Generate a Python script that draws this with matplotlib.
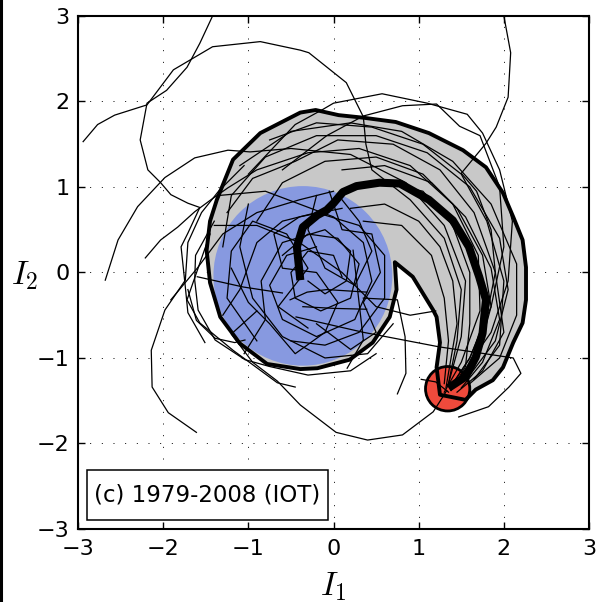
import matplotlib
matplotlib.use("Agg")
import matplotlib.pyplot as plt
from matplotlib.patches import Polygon, Circle, Rectangle
from matplotlib.lines import Line2D

plt.rcParams['mathtext.fontset'] = 'cm'
plt.rcParams['font.family'] = ['DejaVu Sans']

# ---- data (I1, I2 units) ----
ticks = [-3, -2, -1, 0, 1, 2, 3]
panel_label = "(c) 1979-2008 (IOT)"

# grey envelope outline
envelope = [(-1.45, -0.12), (-1.49, 0.26), (-1.45, 0.6), (-1.37, 0.85), (-1.18, 1.32),
            (-0.86, 1.63), (-0.39, 1.87), (-0.21, 1.90), (0.06, 1.84), (0.35, 1.81),
            (0.73, 1.76), (1.12, 1.63), (1.52, 1.43), (1.79, 1.23), (1.99, 0.93), (2.11, 0.65),
            (2.22, 0.38), (2.26, 0.06), (2.26, -0.32), (2.22, -0.59), (2.11, -0.82),
            (1.99, -1.11), (1.87, -1.26), (1.67, -1.37), (1.55, -1.49), (1.25, -1.43),
            (1.21, -1.11), (1.25, -0.82), (1.21, -0.52), (1.17, -0.44), (0.93, -0.05),
            (0.72, 0.12), (0.74, -0.20), (0.66, -0.52), (0.46, -0.82), (0.19, -1.02),
            (-0.19, -1.12), (-0.39, -1.13), (-0.78, -1.07), (-1.10, -0.83), (-1.33, -0.52)]

# mean path (thick black)
mean_i1 = [-0.39, -0.43, -0.36, -0.19, -0.08, 0.00, 0.11, 0.27, 0.54, 0.78, 1.12, 1.40,
           1.59, 1.71, 1.79, 1.75, 1.67, 1.55, 1.35]
mean_i2 = [-0.09, 0.30, 0.53, 0.67, 0.73, 0.81, 0.94, 1.01, 1.05, 1.04, 0.85, 0.61,
           0.30, -0.05, -0.32, -0.71, -0.99, -1.22, -1.35]

blue_center = (-0.36, -0.04)
blue_radius = 1.05
red_center = (1.34, -1.36)
red_radius = 0.26

# individual yearly trajectories
tracks = [
    [(-2.94, 1.53), (-2.77, 1.73), (-2.57, 1.84), (-2.19, 1.96), (-1.88, 2.37), (-1.42, 2.64),
     (-0.86, 2.70), (-0.39, 2.60), (-0.29, 2.57), (0.15, 2.22), (0.35, 1.82), (0.38, 1.5),
     (0.45, 1.2), (0.9, 0.85), (1.3, 0.4), (1.5, -0.2), (1.45, -0.8), (1.35, -1.3)],
    [(-1.42, 3.0), (-1.57, 2.68), (-1.72, 2.40), (-1.96, 2.13), (-2.19, 1.98), (-2.27, 1.55),
     (-2.18, 1.20), (-2.03, 1.05), (-1.91, 0.91), (-1.71, 0.81), (-1.57, 0.76), (-1.71, 0.46),
     (-1.79, 0.30), (-1.74, -0.17), (-1.71, -0.47), (-1.51, -0.82)],
    [(2.0, 3.0), (2.08, 2.57), (2.05, 2.05), (1.91, 1.70), (1.79, 1.51), (1.50, 1.16),
     (1.68, 0.95), (1.85, 0.5), (1.9, 0.0), (1.8, -0.5), (1.6, -1.0), (1.4, -1.3)],
    [(-2.68, -0.09), (-2.53, 0.38), (-2.30, 0.77), (-1.98, 1.11), (-1.63, 1.34), (-1.24, 1.43),
     (-0.98, 1.41), (-0.5, 1.45), (0.2, 1.38), (0.85, 1.05), (1.3, 0.55), (1.55, -0.1),
     (1.5, -0.75), (1.35, -1.3)],
    [(-2.21, 0.17), (-2.03, 0.38), (-1.83, 0.53), (-1.63, 0.71), (-1.44, 0.85), (-1.24, 0.99),
     (-0.9, 1.2), (-0.3, 1.4), (0.3, 1.45), (0.9, 1.25), (1.4, 0.8), (1.7, 0.2), (1.72, -0.45),
     (1.5, -1.05), (1.3, -1.4)],
    [(-1.05, 1.25), (-1.35, 0.95), (-1.55, 0.7), (-1.71, 0.35), (-1.74, -0.09), (-1.98, -0.44),
     (-2.14, -0.91), (-2.13, -1.34), (-1.94, -1.64), (-1.61, -1.87)],
    [(-0.9, -0.45), (-1.2, -0.72), (-0.95, -1.05), (-0.66, -1.27), (-0.39, -1.55), (0.03, -1.87),
     (0.40, -1.96), (0.81, -1.90), (1.17, -1.63), (1.28, -1.46), (1.33, -1.38)],
    [(-1.45, 0.45), (-1.72, -0.32), (-1.57, -0.59), (-1.18, -0.91), (-0.66, -1.29), (-0.45, -1.34)],
    [(-1.6, -0.05), (-1.06, -0.17), (-0.60, -0.24)],
    [(0.35, -0.3), (0.75, -0.32), (0.84, -0.75), (0.85, -1.18), (0.75, -1.42)],
    [(-0.44, -0.52), (0.35, -0.70), (1.24, -0.87), (2.11, -1.0), (2.20, -1.18), (2.06, -1.34),
     (1.82, -1.57), (1.47, -1.69)],
    [(1.03, -1.25), (1.2, -1.28), (1.35, -1.4)],
    [(-1.0, 1.15), (-0.45, 1.73), (-0.12, 1.91), (0.0, 1.98), (0.57, 2.09), (1.10, 1.98),
     (1.57, 1.85), (1.75, 1.63), (1.95, 1.2), (2.1, 0.6), (2.05, -0.1), (1.85, -0.7), (1.5, -1.2)],
    [(-0.6, 1.2), (-0.08, 1.60), (0.35, 1.83), (0.81, 1.95), (1.21, 1.97), (1.48, 1.71),
     (1.72, 1.60), (1.95, 1.0), (2.0, 0.3), (1.85, -0.4), (1.6, -1.0), (1.4, -1.3)],
    [(-1.4, 0.6), (-1.62, 0.2), (-1.63, -0.09), (-1.59, -0.44), (-1.39, -0.79), (-1.04, -1.02),
     (-0.75, -1.1), (-0.3, -1.2), (0.2, -1.15), (0.5, -0.95)],
    [(-1.71, -0.2), (-1.61, -0.56), (-1.39, -0.77), (-1.16, -0.82), (-1.04, -0.79)],
    [(-1.91, -0.32), (-1.6, 0.05), (-1.3, 0.45), (-0.9, 0.7), (-0.4, 0.85), (0.0, 0.95)],
    # along the envelope
    [(-1.3, 0.3), (-1.2, 0.9), (-0.8, 1.35), (-0.2, 1.6), (0.5, 1.6), (1.1, 1.4), (1.6, 1.0),
     (1.95, 0.4), (2.05, -0.2), (1.9, -0.8), (1.6, -1.2), (1.4, -1.35)],
    [(-0.9, 0.6), (-0.6, 1.05), (-0.1, 1.3), (0.5, 1.35), (1.05, 1.15), (1.45, 0.75),
     (1.75, 0.2), (1.85, -0.4), (1.7, -0.95), (1.45, -1.3)],
    [(-1.1, 1.25), (-0.5, 1.65), (0.2, 1.75), (0.8, 1.65), (1.4, 1.3), (1.85, 0.8),
     (2.15, 0.1), (2.15, -0.5), (1.95, -1.0), (1.6, -1.3)],
    [(0.1, 1.2), (0.6, 1.25), (1.15, 1.05), (1.55, 0.65), (1.85, 0.05), (1.95, -0.55),
     (1.75, -1.05), (1.5, -1.35)],
    [(0.2, 0.75), (0.6, 0.8), (1.0, 0.6), (1.25, 0.3), (1.4, -0.1), (1.45, -0.6), (1.38, -1.0),
     (1.32, -1.35)],
    [(0.35, 0.6), (0.8, 0.55), (1.15, 0.2), (1.3, -0.3), (1.35, -0.8), (1.3, -1.3)],
    [(-1.25, 0.7), (-0.95, 1.1), (-0.45, 1.3), (0.05, 1.55), (0.7, 1.5), (1.25, 1.2),
     (1.65, 0.7), (1.9, 0.0), (2.0, -0.7), (1.75, -1.15), (1.45, -1.4)],
    [(-0.75, 1.55), (-0.2, 1.75), (0.45, 1.7), (1.05, 1.5), (1.5, 1.15), (1.8, 0.6),
     (2.0, -0.1), (1.95, -0.85), (1.65, -1.25)],
    [(0.6, 1.05), (1.05, 0.95), (1.4, 0.55), (1.6, 0.0), (1.6, -0.6), (1.55, -1.1), (1.38, -1.38)],
    # inside the blue disc
    [(-0.6, 0.2), (-0.3, 0.45), (0.05, 0.4), (0.3, 0.1), (0.2, -0.3), (-0.15, -0.45),
     (-0.45, -0.3), (-0.5, 0.0), (-0.3, 0.25), (0.0, 0.2), (0.1, -0.05)],
    [(-1.3, -0.5), (-1.1, -0.2), (-0.9, 0.35), (-0.6, 0.6), (-0.2, 0.7), (0.3, 0.55),
     (0.6, 0.2), (0.6, -0.3), (0.3, -0.7), (-0.1, -0.85), (-0.5, -0.8)],
    [(-1.35, 0.9), (-0.8, 0.95), (-0.4, 0.8), (0.0, 0.65), (0.35, 0.35), (0.45, -0.1),
     (0.25, -0.55), (-0.2, -0.75), (-0.6, -0.55), (-0.75, -0.15), (-0.55, 0.2), (-0.2, 0.3)],
    [(-1.05, -0.95), (-0.8, -0.55), (-0.85, -0.1), (-0.6, 0.35), (-0.1, 0.5), (0.2, 0.25),
     (0.15, -0.1), (-0.1, -0.25), (-0.3, -0.1)],
    [(-0.51, -0.32), (-0.31, -0.23), (-0.08, -0.2), (0.39, -0.23)],
    [(-0.36, -0.40), (0.0, -0.42), (0.39, -0.43)],
    [(-1.0, 0.8), (-1.1, 0.3), (-0.95, -0.3), (-0.6, -0.75), (-0.1, -1.0), (0.4, -0.95),
     (0.7, -0.6)],
    [(-1.4, 0.55), (-0.9, 0.55), (-0.4, 0.35), (0.1, 0.0), (0.5, -0.4), (0.9, -0.5), (1.2, -0.45)],
    [(-0.2, 0.9), (-0.3, 0.5), (-0.1, 0.05), (0.25, -0.15), (0.45, 0.25), (0.3, 0.6), (0.1, 0.85)],
    [(0.23, 0.26), (0.35, -0.79), (0.16, -1.12)],
    [(-1.2, 0.05), (-1.0, -0.35), (-0.75, -0.6), (-0.45, -0.95), (-0.1, -0.7), (0.05, -0.35),
     (-0.2, 0.0), (-0.6, 0.05), (-0.7, 0.45), (-0.4, 0.65), (0.1, 0.75)],
    [(-0.05, 0.95), (0.1, 0.5), (0.45, 0.45), (0.55, 0.0), (0.35, -0.35), (0.5, -0.7),
     (0.2, -0.9), (-0.2, -0.6)],
    [(-0.9, -0.8), (-1.25, -0.3), (-1.2, 0.25), (-0.95, 0.6), (-0.55, 0.45), (-0.3, 0.05),
     (-0.65, -0.4), (-0.3, -0.65)],
]

# ---- figure ----
fig = plt.figure(figsize=(5.96, 6.02), dpi=100)
ax = fig.add_axes([0.1309, 0.1213, 0.8574, 0.8522])

ax.add_patch(Polygon(envelope, closed=True, facecolor='#c8c8c8', edgecolor='none', zorder=1))
ax.add_patch(Circle(blue_center, blue_radius, facecolor='#8799e0', edgecolor='none', zorder=2))
ax.add_patch(Circle(red_center, red_radius, facecolor='#ef4a3c', edgecolor='k', lw=2.0, zorder=3))

for tr in tracks:
    xs = [p[0] for p in tr]
    ys = [p[1] for p in tr]
    ax.plot(xs, ys, color='k', lw=0.9, zorder=4)

ax.add_patch(Polygon(envelope, closed=True, facecolor='none', edgecolor='k', lw=2.8,
                     joinstyle='round', zorder=5))
ax.plot(mean_i1, mean_i2, color='k', lw=5.8, solid_capstyle='butt', zorder=6)

ax.set_xlim(-3, 3)
ax.set_ylim(-3, 3)
ax.set_xticks(ticks)
ax.set_yticks(ticks)
ax.grid(True, color='k', linestyle=(0, (1, 11)), lw=0.7)
ax.set_axisbelow(True)
ax.tick_params(direction='in', top=True, right=True, length=5, width=1, labelsize=16)
ax.tick_params(axis='y', pad=6)
ax.tick_params(axis='x', pad=7)
for s in ax.spines.values():
    s.set_linewidth(1.5)

ax.set_xlabel(r'$I_1$', fontsize=24)
ax.set_ylabel(r'$I_2$', fontsize=24, rotation=0, va='center', ha='center')
ax.xaxis.set_label_coords(0.5, -0.08)
ax.yaxis.set_label_coords(-0.105, 0.495)

ax.add_patch(Rectangle((0.018, 0.018), 0.471, 0.097, transform=ax.transAxes,
                       facecolor='white', edgecolor='k', lw=1.1, zorder=7))
ax.text(0.2535, 0.066, panel_label, transform=ax.transAxes, ha='center', va='center',
        fontsize=16.5, zorder=8)

fig.add_artist(Line2D([0.0025, 0.0025], [0, 1], color='k', lw=2.2))

fig.savefig('out.png', dpi=100)
